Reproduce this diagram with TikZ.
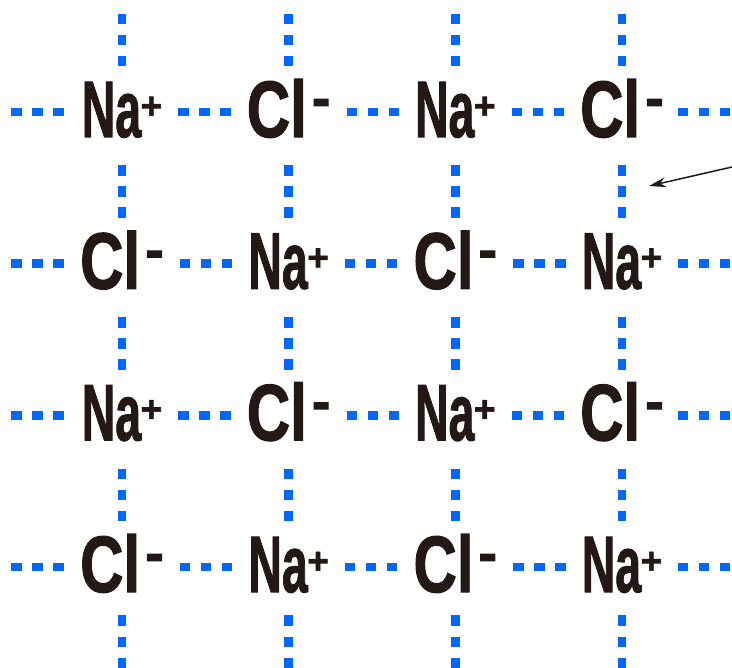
\documentclass[tikz,border=0pt]{standalone}
\usepackage{fontspec}
\usepackage{graphicx}
\usetikzlibrary{matrix}
\usetikzlibrary{calc}
\usetikzlibrary{arrows.meta}
\newfontfamily\ionfont[FakeBold=1.6]{Liberation Sans Bold}
\definecolor{ionblue}{RGB}{0,104,255}
\definecolor{ionink}{RGB}{35,24,21}
\newcommand{\naion}{\scalebox{0.58}[1]{Na}\kern-0.5pt\raisebox{18.5pt}{\fontsize{37pt}{37pt}\selectfont +}}
\newcommand{\clion}{\scalebox{0.75}[1]{Cl}\kern5pt\raisebox{20pt}{\fontsize{56pt}{56pt}\selectfont -}}
\tikzset{ion/.style={inner sep=0pt, text height=57pt, text depth=7pt,
   text=ionink, font=\ionfont\fontsize{80pt}{80pt}\selectfont}}
\tikzset{lattice/.style = {
   matrix of nodes,
   nodes={ion},
   column sep={166.67pt,between origins},
   row sep={151.67pt,between origins}
}}
\tikzset{dots/.style={ionblue, line width=8.5pt, dash pattern=on 10.5pt off 10.5pt}}
\tikzset{hbond/.style={dots,
   to path={($(\tikztostart.east)!0.5!(\tikztotarget.west)!26.25pt!(\tikztostart.east)$) -- ($(\tikztostart.east)!0.5!(\tikztotarget.west)!26.25pt!(\tikztotarget.west)$)}}}
\tikzset{vbond/.style={dots,
   to path={($(\tikztostart)!0.525!(\tikztotarget)!26.25pt!(\tikztostart)$) -- ($(\tikztostart)!0.525!(\tikztotarget)!26.25pt!(\tikztotarget)$)}}}
\tikzset{pointer/.style={ionink, line width=1.5pt, -{Stealth[length=17pt,width=10pt]}}}

\begin{document}
\begin{tikzpicture}[x=1pt, y=-1pt]
    \useasboundingbox (0,0) rectangle (732,668);

    \matrix[lattice] (m) at (372,339.5) {
      \naion & \clion & \naion & \clion \\
      \clion & \naion & \clion & \naion \\
      \naion & \clion & \naion & \clion \\
      \clion & \naion & \clion & \naion \\
    };

    % bonds between neighbouring ions
    \foreach \r in {1,...,4}
      \foreach \c/\n in {1/2,2/3,3/4} {
        \draw[hbond] (m-\r-\c) to (m-\r-\n);
        \draw[vbond] (m-\c-\r) to (m-\n-\r);
      }

    % bonds running off the edges
    \coordinate (west) at (11,0);
    \coordinate (east) at (730,0);
    \coordinate (north) at (0,14);
    \coordinate (south) at (0,668);
    \foreach \i in {1,...,4} {
      \draw[dots] (west |- m-\i-1) -- ++(52.5,0);
      \draw[dots] (east |- m-\i-4) -- ++(-52.5,0);
      \draw[dots] (m-1-\i |- north) -- ++(0,52.5);
      \draw[dots] (m-4-\i |- south) -- ++(0,-52.5);
    }

    \coordinate (tail) at (732,167);
    \coordinate (tip) at (649,186);
    \draw[pointer] (tail) -- (tip);

  \end{tikzpicture}
\end{document}
